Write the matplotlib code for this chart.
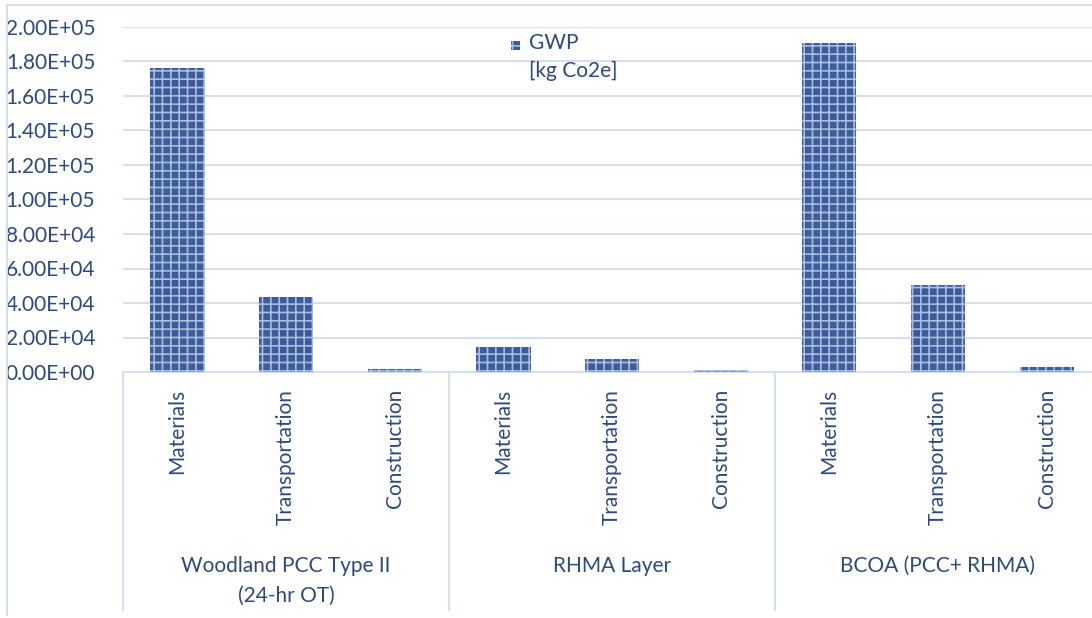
import matplotlib
matplotlib.use("Agg")
import matplotlib.pyplot as plt
from matplotlib.patches import Rectangle
from matplotlib.transforms import blended_transform_factory
import numpy as np

plt.rcParams['font.family'] = ['Lato', 'DejaVu Sans']
plt.rcParams['hatch.linewidth'] = 1.2

groups = ["Woodland PCC Type II\n(24-hr OT)", "RHMA Layer", "BCOA (PCC+ RHMA)"]
stages = ["Materials", "Transportation", "Construction"]
gwp_values = [176000, 43500, 1500,
              14500, 7500, 1000,
              191000, 50500, 2900]
series_name = "GWP\n[kg Co2e]"
yticks = [0, 20000, 40000, 60000, 80000, 100000, 120000, 140000, 160000, 180000, 200000]
ytick_labels = ["0.00E+00", "2.00E+04", "4.00E+04", "6.00E+04", "8.00E+04", "1.00E+05",
                "1.20E+05", "1.40E+05", "1.60E+05", "1.80E+05", "2.00E+05"]

W, H = 1092, 618
fig = plt.figure(figsize=(W / 100, H / 100), dpi=100)
text_color = '#2c4a7e'
grid_color = '#d6dfee'
bar_color = '#3d5c9a'
hatch_color = '#a9bde0'
fs = 15

# chart border
fig.add_artist(plt.Line2D([7 / W, 7 / W], [3 / H, 1 - 5 / H], color=grid_color, lw=1.5))
fig.add_artist(plt.Line2D([7 / W, 1], [1 - 5 / H, 1 - 5 / H], color=grid_color, lw=1.5))

x0, x1, y0, y1 = 123, 1101, 372, 27
ax = fig.add_axes([x0 / W, 1 - y0 / H, (x1 - x0) / W, (y0 - y1) / H])

n = len(gwp_values)
x = np.arange(n)
ax.bar(x, gwp_values, width=0.5, color=bar_color, hatch='++', edgecolor=hatch_color,
       linewidth=0, label=series_name, zorder=3)

ax.set_xlim(-0.5, n - 0.5)
ax.set_ylim(0, 200000)
ax.set_yticks(yticks)
ax.set_yticklabels(ytick_labels, fontsize=fs, color=text_color)
ax.grid(axis='y', color=grid_color, lw=1.5, zorder=0)
for s in ['left', 'right', 'top']:
    ax.spines[s].set_visible(False)
ax.spines['bottom'].set_color(grid_color)
ax.spines['bottom'].set_linewidth(1.5)
ax.tick_params(axis='y', length=0, pad=20)
ax.tick_params(axis='x', length=0, pad=12)
ax.set_xticks(x)
ax.set_xticklabels(stages * len(groups), rotation=90, fontsize=fs, color=text_color,
                   va='top', ha='center')

trans = blended_transform_factory(ax.transData, ax.transAxes)
axh = (y0 - y1)
for i in range(len(groups) + 1):
    xs = i * 3 - 0.5
    ax.plot([xs, xs], [0, -(610 - y0) / axh], transform=trans, color=grid_color,
            lw=1.5, clip_on=False)
for i, g in enumerate(groups):
    ax.text(i * 3 + 1, -(556 - y0) / axh, g, transform=trans, ha='center', va='top',
            fontsize=fs, color=text_color, linespacing=1.6)

# legend (drawn manually so the marker sits beside the first line)
ax_tr = ax.transAxes
lx = (511 - x0) / (x1 - x0)
ly = 1 - (50 - y1) / axh
ax.add_patch(Rectangle((lx, ly), 9 / (x1 - x0), 9 / axh, transform=ax_tr,
                       facecolor=bar_color, hatch='++', edgecolor=hatch_color, lw=0,
                       clip_on=False, zorder=4))
ax.text((529 - x0) / (x1 - x0), 1 - (33 - y1) / axh, series_name, transform=ax_tr,
        ha='left', va='top', fontsize=fs, color=text_color, linespacing=1.5)

fig.savefig("out.png", dpi=100)
